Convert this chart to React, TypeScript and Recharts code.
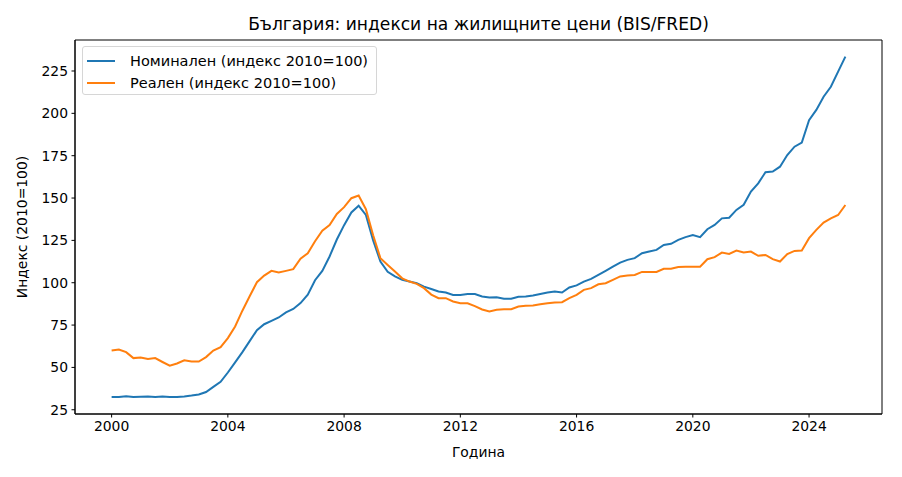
import { LineChart, Line, XAxis, YAxis, Legend, ReferenceArea } from 'recharts';

// quarterly observations, first quarter of 2000 .. second quarter of 2025
const startYear = 2000;

const nominal = [
  32.6, 32.6, 33.0, 32.5, 32.7, 32.9, 32.6, 32.9,
  32.6, 32.6, 32.9, 33.4, 34.0, 35.5, 38.5, 41.5,
  47.0, 53.0, 59.0, 65.5, 72.0, 75.5, 77.5, 79.5,
  82.5, 84.5, 88.0, 93.0, 101.5, 107.0, 115.5, 125.5,
  134.0, 141.5, 145.5, 140.0, 125.0, 112.5, 106.5, 103.7,
  101.7, 100.7, 99.7, 97.7, 96.3, 94.8, 94.2, 92.8,
  92.8, 93.3, 93.3, 91.9, 91.3, 91.4, 90.5, 90.5,
  91.7, 91.9, 92.5, 93.4, 94.2, 94.8, 94.2, 97.2,
  98.4, 100.7, 102.3, 104.6, 107.0, 109.5, 111.9, 113.5,
  114.5, 117.4, 118.4, 119.4, 122.3, 123.0, 125.3, 126.9,
  128.2, 126.9, 131.6, 134.1, 138.0, 138.4, 143.0, 146.0,
  153.8, 158.7, 165.2, 165.6, 168.5, 175.4, 180.3, 182.7,
  196.0, 202.0, 209.8, 215.7, 224.6, 233.5,
];

const real = [
  60.0, 60.6, 59.0, 55.5, 55.9, 55.0, 55.5, 53.2,
  51.0, 52.3, 54.2, 53.5, 53.5, 56.1, 60.0, 62.0,
  67.3, 74.2, 83.5, 92.0, 100.3, 104.2, 107.0, 106.0,
  107.0, 108.0, 114.2, 117.4, 124.5, 130.7, 134.1, 140.6,
  144.6, 149.9, 151.5, 143.4, 128.0, 114.5, 110.5, 106.6,
  102.6, 100.7, 99.3, 96.8, 93.0, 90.9, 90.9, 88.9,
  87.9, 87.9, 86.2, 84.2, 83.0, 84.0, 84.4, 84.4,
  86.0, 86.4, 86.5, 87.3, 87.9, 88.3, 88.5, 90.9,
  92.8, 95.8, 96.8, 99.1, 99.7, 101.7, 103.7, 104.2,
  104.6, 106.4, 106.4, 106.4, 108.2, 108.2, 109.3, 109.5,
  109.5, 109.5, 113.9, 115.1, 117.8, 117.0, 119.0, 117.8,
  118.4, 115.9, 116.4, 113.9, 112.5, 116.9, 118.8, 119.0,
  126.3, 131.2, 135.5, 138.0, 140.0, 145.9,
];

const xTicks = [2000, 2004, 2008, 2012, 2016, 2020, 2024];
const yTicks = [25, 50, 75, 100, 125, 150, 175, 200, 225];

const xDomain = [1998.74, 2026.51];
const yDomain = [22.5, 243.3];

const data = nominal.map((v, i) => ({
  t: startYear + i * 0.25,
  nominal: v,
  real: real[i],
}));

const FONT = "'DejaVu Sans', sans-serif";

function LegendBox(props: any) {
  const items = props.payload || [];
  return (
    <div
      style={{
        border: '1px solid #d6d6d6',
        borderRadius: 3,
        background: 'rgba(255,255,255,0.8)',
        padding: '3px 8px 1px 4px',
        fontFamily: FONT,
        fontSize: 14.5,
        color: '#000',
      }}
    >
      {items.map((it: any) => (
        <div key={it.value} style={{ display: 'flex', alignItems: 'center', height: 21.7 }}>
          <span
            style={{
              display: 'inline-block',
              width: 28,
              height: 2,
              background: it.color,
              marginRight: 15,
            }}
          />
          <span style={{ whiteSpace: 'nowrap' }}>{it.value}</span>
        </div>
      ))}
    </div>
  );
}

export default function App() {
  return (
    <div
      style={{
        position: 'absolute',
        left: 0,
        top: 0,
        width: 902,
        height: 477,
        background: '#fff',
        fontFamily: FONT,
      }}
    >
      <div
        style={{
          position: 'absolute',
          top: 14,
          left: 75,
          width: 807,
          textAlign: 'center',
          fontSize: 17.1,
          lineHeight: '20px',
          color: '#000',
        }}
      >
        България: индекси на жилищните цени (BIS/FRED)
      </div>
      <LineChart
        width={902}
        height={477}
        data={data}
        margin={{ top: 40, right: 20, left: 0, bottom: 0 }}
      >
        <XAxis
          dataKey="t"
          type="number"
          domain={xDomain}
          ticks={xTicks}
          allowDataOverflow
          height={63}
          tickSize={3.5}
          tickMargin={3.5}
          stroke="#000"
          tick={{ fill: '#000', fontSize: 13.9, fontFamily: FONT }}
          label={{
            value: 'Година',
            position: 'insideBottom',
            offset: 20,
            fill: '#000',
            fontSize: 13.9,
            fontFamily: FONT,
          }}
        />
        <YAxis
          type="number"
          domain={yDomain}
          ticks={yTicks}
          allowDataOverflow
          width={75}
          tickSize={3.5}
          tickMargin={3.5}
          stroke="#000"
          tick={{ fill: '#000', fontSize: 13.9, fontFamily: FONT }}
          label={{
            value: 'Индекс (2010=100)',
            angle: -90,
            position: 'insideLeft',
            offset: 22,
            fill: '#000',
            fontSize: 13.9,
            fontFamily: FONT,
            style: { textAnchor: 'middle' },
          }}
        />
        <ReferenceArea
          x1={xDomain[0]}
          x2={xDomain[1]}
          y1={yDomain[0]}
          y2={yDomain[1]}
          fill="none"
          stroke="#000"
          strokeWidth={1}
          fillOpacity={0}
        />
        <Legend
          layout="vertical"
          align="center"
          verticalAlign="middle"
          content={LegendBox}
          wrapperStyle={{ left: 82, top: 46, width: 'auto' }}
        />
        <Line
          type="linear"
          dataKey="nominal"
          name="Номинален (индекс 2010=100)"
          stroke="#1f77b4"
          strokeWidth={2}
          dot={false}
          isAnimationActive={false}
        />
        <Line
          type="linear"
          dataKey="real"
          name="Реален (индекс 2010=100)"
          stroke="#ff7f0e"
          strokeWidth={2}
          dot={false}
          isAnimationActive={false}
        />
      </LineChart>
    </div>
  );
}
